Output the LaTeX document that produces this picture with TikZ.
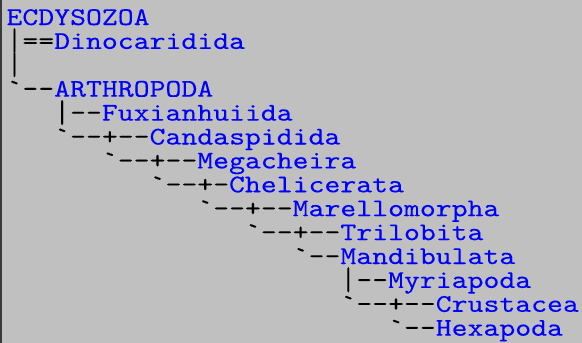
\documentclass[tikz,border=0pt]{standalone}
\usepackage{fontspec}
\usepackage{graphicx}
\newfontfamily\treefont{lmmono10-regular.otf}[FakeStretch=1.1877,FakeBold=0.12]
\definecolor{bg}{HTML}{C0C0C0}
\definecolor{names}{HTML}{0000FF}
\definecolor{edge}{HTML}{3A3A3A}
\newcommand{\vbar}{\raisebox{-1.8pt}{\scalebox{0.85}[1.27]{|}}}
\begin{document}
\begin{tikzpicture}[x=1pt,y=-1pt,
  treeline/.style={anchor=base west, inner sep=0pt, outer sep=0pt,
    font=\treefont\fontsize{25.5}{24}\selectfont, text=black}]
\def\cw{15.9}
\def\lh{23.9}
\fill[bg] (0,0) rectangle (582,343);
\useasboundingbox (0,0) rectangle (582,343);
\fill[edge] (0,0) rectangle (1.5,343);
\node[treeline] (ecdysozoa)    at ({6.5+0*\cw},{25+0*\lh})  {\textcolor{names}{ECDYSOZOA}};
\node[treeline] (dinocaridida) at ({6.5+0*\cw},{25+1*\lh})  {\makebox[\cw pt][c]{\vbar}==\textcolor{names}{Dinocaridida}};
\node[treeline] (bar)          at ({6.5+0*\cw},{25+2*\lh})  {\makebox[\cw pt][c]{\vbar}};
\node[treeline] (arthropoda)   at ({6.5+0*\cw},{25+3*\lh})  {`--\textcolor{names}{ARTHROPODA}};
\node[treeline] (fuxianhuiida) at ({6.5+3*\cw},{25+4*\lh})  {\makebox[\cw pt][c]{\vbar}--\textcolor{names}{Fuxianhuiida}};
\node[treeline] (candaspidida) at ({6.5+3*\cw},{25+5*\lh})  {`--+--\textcolor{names}{Candaspidida}};
\node[treeline] (megacheira)   at ({6.5+6*\cw},{25+6*\lh})  {`--+--\textcolor{names}{Megacheira}};
\node[treeline] (chelicerata)  at ({6.5+9*\cw},{25+7*\lh})  {`--+-\textcolor{names}{Chelicerata}};
\node[treeline] (marellomorpha) at ({6.5+12*\cw},{25+8*\lh}) {`--+--\textcolor{names}{Marellomorpha}};
\node[treeline] (trilobita)    at ({6.5+15*\cw},{25+9*\lh})  {`--+--\textcolor{names}{Trilobita}};
\node[treeline] (mandibulata)  at ({6.5+18*\cw},{25+10*\lh}) {`--\textcolor{names}{Mandibulata}};
\node[treeline] (myriapoda)    at ({6.5+21*\cw},{25+11*\lh}) {\makebox[\cw pt][c]{\vbar}--\textcolor{names}{Myriapoda}};
\node[treeline] (crustacea)    at ({6.5+21*\cw},{25+12*\lh}) {`--+--\textcolor{names}{Crustacea}};
\node[treeline] (hexapoda)     at ({6.5+24*\cw},{25+13*\lh}) {`--\textcolor{names}{Hexapoda}};
\end{tikzpicture}
\end{document}
